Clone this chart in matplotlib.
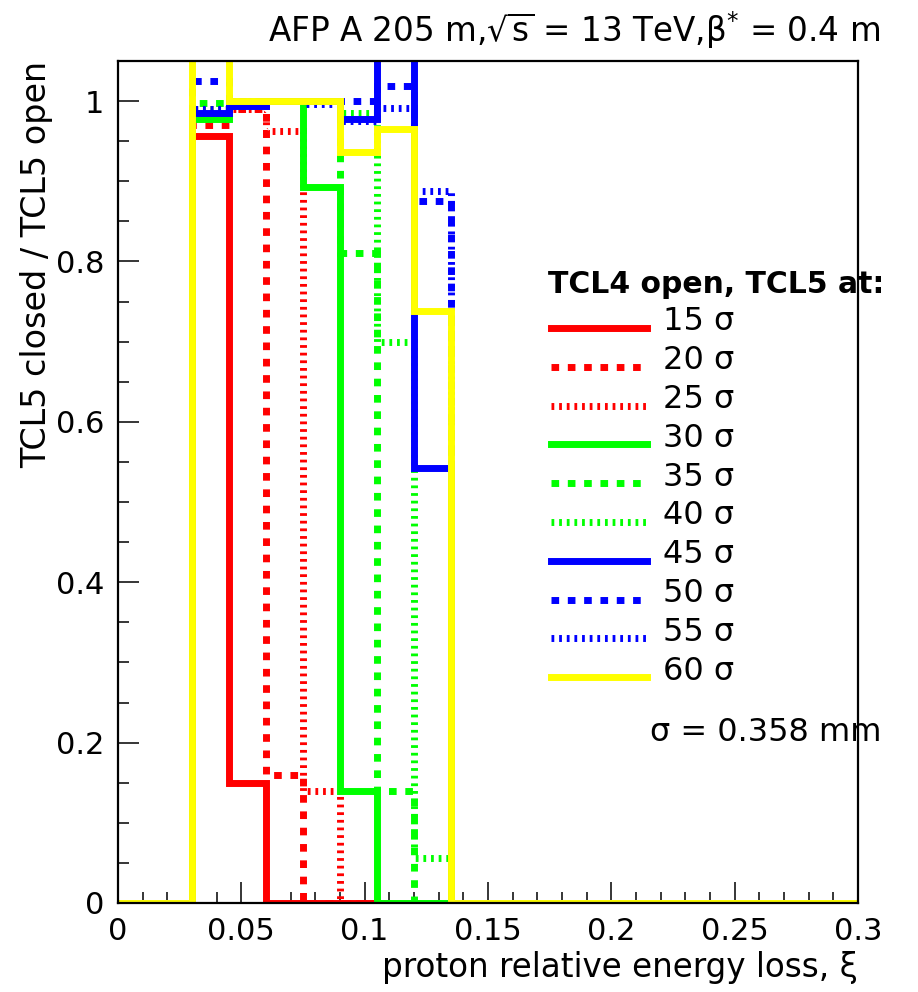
import matplotlib
matplotlib.use("Agg")
import matplotlib.pyplot as plt
import numpy as np

plt.rcParams["font.family"] = ["DejaVu Sans"]
plt.rcParams["mathtext.fontset"] = "dejavusans"

# bin edges in xi (0.015 wide), only bins 0.03 - 0.135 are filled
xi_edges = np.linspace(0.0, 0.3, 21)
first_bin = 2

tcl5_sigma = [15, 20, 25, 30, 35, 40, 45, 50, 55, 60]
ratio_15 = [0.956, 0.15, 0.0, 0.0, 0.0, 0.0, 0.0]
ratio_20 = [0.97, 0.99, 0.16, 0.0, 0.0, 0.0, 0.0]
ratio_25 = [0.99, 0.99, 0.963, 0.14, 0.0, 0.0, 0.0]
ratio_30 = [0.978, 1.0, 1.0, 0.893, 0.14, 0.0, 0.0]
ratio_35 = [0.998, 1.0, 1.0, 1.0, 0.81, 0.14, 0.0]
ratio_40 = [0.99, 1.0, 1.0, 1.0, 0.985, 0.70, 0.056]
ratio_45 = [0.985, 0.994, 1.0, 1.0, 0.978, 1.08, 0.543]
ratio_50 = [1.025, 1.0, 1.0, 1.0, 1.0, 1.019, 0.875]
ratio_55 = [0.99, 1.0, 1.0, 0.996, 0.975, 0.991, 0.888]
ratio_60 = [1.1, 1.0, 1.0, 1.0, 0.936, 0.965, 0.738]
ratios = [ratio_15, ratio_20, ratio_25, ratio_30, ratio_35,
          ratio_40, ratio_45, ratio_50, ratio_55, ratio_60]

colors = ["#ff0000"] * 3 + ["#00ff00"] * 3 + ["#0000ff"] * 3 + ["#ffff00"]
solid = "-"
dashed = (0, (1.1, 1.25))
dotted = (0, (0.4, 0.7))
styles = [solid, dashed, dotted] * 3 + [solid]

fig = plt.figure(figsize=(9.18, 9.92), dpi=100)
ax = fig.add_axes([118 / 918, 1 - 903 / 992, 740 / 918, 842 / 992])

nbins = len(xi_edges) - 1
for vals, c, ls in zip(ratios, colors, styles):
    h = np.zeros(nbins)
    h[first_bin:first_bin + len(vals)] = vals
    ax.stairs(h, xi_edges, baseline=None, color=c, linestyle=ls,
              linewidth=5, zorder=2)

ax.set_xlim(0, 0.3)
ax.set_ylim(0, 1.05)
ax.set_xticks([0, 0.05, 0.1, 0.15, 0.2, 0.25, 0.3])
ax.set_xticklabels(["0", "0.05", "0.1", "0.15", "0.2", "0.25", "0.3"])
ax.set_xticks(np.arange(0, 0.3001, 0.01), minor=True)
ax.set_yticks([0, 0.2, 0.4, 0.6, 0.8, 1.0])
ax.set_yticklabels(["0", "0.2", "0.4", "0.6", "0.8", "1"])
ax.set_yticks(np.arange(0, 1.0501, 0.05), minor=True)
ax.tick_params(which="both", direction="in", labelsize=22, width=1.1,
               top=False, right=False)
ax.tick_params(which="major", length=15, pad=10)
ax.tick_params(which="minor", length=8)
for s in ax.spines.values():
    s.set_linewidth(1.6)
    s.set_zorder(3)

ax.set_xlabel("proton relative energy loss, ξ", fontsize=23.5, loc="right",
              labelpad=4)
ax.set_ylabel("TCL5 closed / TCL5 open", fontsize=24, loc="top", labelpad=2)

fig.text(880 / 918, 1 - 30 / 992,
         r"AFP A 205 m,$\sqrt{\mathrm{s}}$ = 13 TeV,β$^{*}$ = 0.4 m",
         fontsize=23.5, ha="right", va="center")

# legend block
ax.text(0.581, 0.735, "TCL4 open, TCL5 at:", transform=ax.transAxes,
        fontsize=21.5, fontweight="bold", ha="left", va="center",
        zorder=1, clip_on=False)
for i, (sig, c, ls) in enumerate(zip(tcl5_sigma, colors, styles)):
    yl = (903 - (328 + 38.8 * i)) / 842
    yt = (903 - (322 + 38.8 * i)) / 842
    ax.plot([0.585, 0.715], [yl, yl], transform=ax.transAxes, color=c,
            linestyle=ls, linewidth=5, clip_on=False, zorder=1)
    ax.text(0.736, yt, f"{sig} σ", transform=ax.transAxes, fontsize=23,
            ha="left", va="center", zorder=1, clip_on=False)
ax.text(0.719, 0.203, "σ = 0.358 mm", transform=ax.transAxes, fontsize=23,
        ha="left", va="center", zorder=1, clip_on=False)

fig.savefig("out.png", dpi=100)
